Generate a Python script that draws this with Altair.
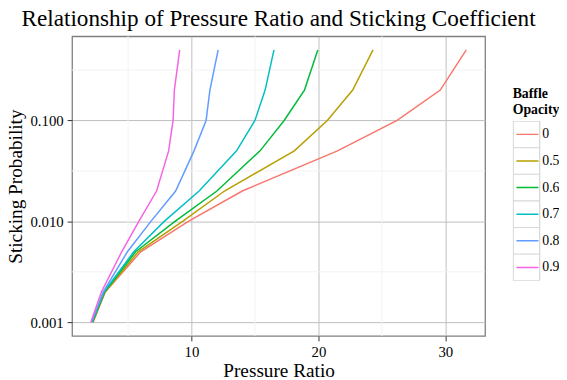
import altair as alt
import pandas as pd
import math

# ---- data ----
opacity_levels = ["0", "0.5", "0.66", "0.75", "0.85", "0.9"]
line_colors = ["#F8766D", "#B79F00", "#00BA38", "#00BFC4", "#619CFF", "#F564E3"]
sticking = [0.001, 0.002, 0.005, 0.01, 0.02, 0.05, 0.1, 0.2, 0.5]
ratio_0 = [2.25, 3.2, 6.0, 9.75, 14.0, 21.5, 26.2, 29.6, 31.65]
ratio_05 = [2.2, 3.2, 5.8, 9.3, 12.6, 18.1, 20.7, 22.7, 24.3]
ratio_066 = [2.2, 3.15, 5.6, 8.7, 12.0, 15.4, 17.3, 18.9, 19.95]
ratio_075 = [2.15, 3.1, 5.45, 7.85, 10.6, 13.55, 15.0, 15.8, 16.5]
ratio_085 = [2.12, 3.05, 4.95, 6.8, 8.75, 10.2, 11.15, 11.45, 12.1]
ratio_09 = [2.07, 2.9, 4.5, 5.85, 7.25, 8.2, 8.55, 8.65, 9.07]

x_major = [10, 20, 30]
x_minor = [5, 15, 25]
y_major = [0.001, 0.01, 0.1]
y_minor = [10 ** -2.5, 10 ** -1.5, 10 ** -0.5]

# key boxes use a separate (space-suffixed) domain so the two legends stay apart
box_levels = [lvl + " " for lvl in opacity_levels]

series = [ratio_0, ratio_05, ratio_066, ratio_075, ratio_085, ratio_09]
rows = []
for lvl, box, xs in zip(opacity_levels, box_levels, series):
    for order, (xv, yv) in enumerate(zip(xs, sticking)):
        rows.append({"ratio": xv, "prob": yv, "opacity": lvl, "key": box, "order": order})
df = pd.DataFrame(rows)

# ggplot-like 5% expansion
xlo, xhi = df["ratio"].min(), df["ratio"].max()
xpad = 0.05 * (xhi - xlo)
ylo, yhi = math.log10(df["prob"].min()), math.log10(df["prob"].max())
ypad = 0.05 * (yhi - ylo)

xscale = alt.Scale(domain=[xlo - xpad, xhi + xpad], nice=False, zero=False)
yscale = alt.Scale(type="log", domain=[10 ** (ylo - ypad), 10 ** (yhi + ypad)], nice=False)

FONT = "Liberation Serif"

x_axis = alt.Axis(values=x_major, title="Pressure Ratio", format="d")
y_axis = alt.Axis(values=y_major, title="Sticking Probability", format=".3f")

minor_x = alt.Chart(pd.DataFrame({"ratio": x_minor})).mark_rule(
    color="#F3F3F3", strokeWidth=1
).encode(x=alt.X("ratio:Q", scale=xscale, axis=x_axis))

minor_y = alt.Chart(pd.DataFrame({"prob": y_minor})).mark_rule(
    color="#F3F3F3", strokeWidth=1
).encode(y=alt.Y("prob:Q", scale=yscale, axis=y_axis))

legend_common = dict(
    orient="none",
    legendY=52,
    title=["Baffle", "Opacity"],
    titleFont=FONT,
    titleFontSize=14,
    titleFontWeight="bold",
    titleColor="black",
    titleLineHeight=16,
    titlePadding=4,
    labelFont=FONT,
    labelFontSize=14,
    labelColor="black",
    clipHeight=27,
    rowPadding=0,
)

lines = alt.Chart(df).mark_line(strokeWidth=1.5).encode(
    x=alt.X("ratio:Q", scale=xscale, axis=x_axis),
    y=alt.Y("prob:Q", scale=yscale, axis=y_axis),
    color=alt.Color(
        "opacity:N",
        scale=alt.Scale(domain=opacity_levels, range=line_colors),
        legend=alt.Legend(
            symbolType="stroke",
            symbolStrokeWidth=1.5,
            symbolSize=500,
            labelOffset=3,
            titleOpacity=0,
            legendX=450,
            **legend_common,
        ),
    ),
    order="order:Q",
)

boxes = alt.Chart(df).mark_point(shape="square", opacity=0).encode(
    x=alt.X("ratio:Q", scale=xscale, axis=x_axis),
    y=alt.Y("prob:Q", scale=yscale, axis=y_axis),
    shape=alt.Shape(
        "key:N",
        scale=alt.Scale(domain=box_levels, range=["square"] * 6),
        legend=alt.Legend(
            symbolFillColor="transparent",
            symbolStrokeColor="#CCCCCC",
            symbolStrokeWidth=1,
            symbolOpacity=1,
            symbolSize=729,
            labelOpacity=0,
            legendX=447,
            **legend_common,
        ),
    ),
)

chart = (
    alt.layer(minor_x, minor_y, lines, boxes)
    .properties(
        width=419,
        height=304,
        title=alt.TitleParams(
            "Relationship of Pressure Ratio and Sticking Coefficient",
            font=FONT,
            fontSize=23.5,
            fontWeight="normal",
            color="black",
            anchor="middle",
            offset=5,
        ),
        autosize=alt.AutoSizeParams(type="none"),
        padding={"left": 65, "top": 26, "right": 75, "bottom": 42},
    )
    .configure_view(stroke="#7F7F7F", strokeWidth=1.3)
    .configure_axis(
        grid=True,
        gridColor="#BEBEBE",
        gridWidth=1,
        domain=False,
        tickColor="#333333",
        tickSize=5,
        tickWidth=1,
        labelFont=FONT,
        labelFontSize=15,
        labelColor="black",
        labelPadding=4,
        titleFont=FONT,
        titleFontSize=19.5,
        titleFontWeight="normal",
        titleColor="black",
    )
    .configure_axisX(titlePadding=2)
    .configure_axisY(titlePadding=5)
)

chart.save("out.html", embed_options={"renderer": "svg", "actions": False})
